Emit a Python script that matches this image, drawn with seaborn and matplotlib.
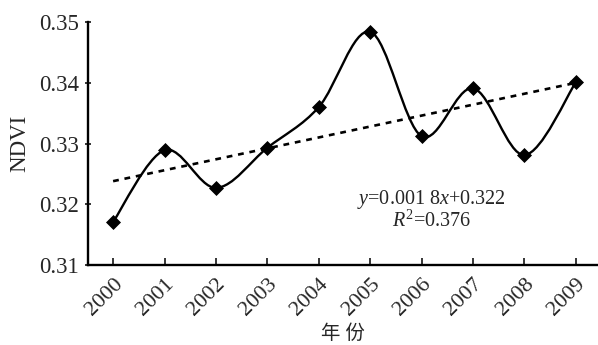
import numpy as np
import matplotlib
matplotlib.use('Agg')
import matplotlib.pyplot as plt
from matplotlib.path import Path
from matplotlib.patches import PathPatch
import seaborn as sns
import pandas as pd

# Data
years = [2000, 2001, 2002, 2003, 2004, 2005, 2006, 2007, 2008, 2009]
ndvi = [0.3171, 0.3289, 0.3227, 0.3293, 0.3360, 0.3484, 0.3312, 0.3391, 0.3281, 0.3401]
slope = 0.0018
intercept = 0.322
r2 = 0.376
yticks = [0.31, 0.32, 0.33, 0.34, 0.35]

sns.set_style("white")
plt.rcParams['font.family'] = ['Liberation Serif', 'Noto Sans CJK SC']
plt.rcParams['mathtext.fontset'] = 'custom'
plt.rcParams['mathtext.rm'] = 'Liberation Serif'
plt.rcParams['mathtext.it'] = 'Liberation Serif:italic'

df = pd.DataFrame({'year': years, 'ndvi': ndvi})
df['trend'] = intercept + slope * (np.arange(len(years)) + 1)

fig = plt.figure(figsize=(5.98, 3.45), dpi=100)
ax = fig.add_axes([0.147, 0.232, 0.853, 0.704])

# Smoothed line (Catmull-Rom style, like Excel smoothed lines)
x = np.array(years, dtype=float)
y = np.array(ndvi)
verts = [(x[0], y[0])]
codes = [Path.MOVETO]
n = len(x)
for i in range(n - 1):
    x0, y0 = (x[i - 1], y[i - 1]) if i > 0 else (x[i], y[i])
    x3, y3 = (x[i + 2], y[i + 2]) if i + 2 < n else (x[i + 1], y[i + 1])
    c1 = (x[i] + (x[i + 1] - x0) / 6, y[i] + (y[i + 1] - y0) / 6)
    c2 = (x[i + 1] - (x3 - x[i]) / 6, y[i + 1] - (y3 - y[i]) / 6)
    verts += [c1, c2, (x[i + 1], y[i + 1])]
    codes += [Path.CURVE4, Path.CURVE4, Path.CURVE4]
ax.add_patch(PathPatch(Path(verts, codes), facecolor='none', edgecolor='black', lw=1.7, zorder=2))

# Trend line
sns.lineplot(data=df, x='year', y='trend', ax=ax, color='black', lw=1.9,
             linestyle=(0, (2.2, 2.2)), zorder=1)

# Markers
sns.scatterplot(data=df, x='year', y='ndvi', ax=ax, marker='D', s=50,
                color='black', edgecolor='black', zorder=3)

ax.set_xlim(1999.51, 2009.43)
ax.set_ylim(0.31, 0.35)
ax.set_xticks(years)
ax.set_xticklabels([str(v) for v in years], rotation=45, ha='right',
                   rotation_mode='anchor', fontsize=16)
ax.set_yticks(yticks)
ax.set_yticklabels([f'{v:.2f}' for v in yticks], fontsize=16.5)
ax.tick_params(axis='x', direction='in', length=5, width=1.3, pad=7, bottom=True)
ax.tick_params(axis='y', direction='inout', length=5, width=1.3, pad=4, left=True)

for s in ['top', 'right']:
    ax.spines[s].set_visible(False)
for s in ['left', 'bottom']:
    ax.spines[s].set_linewidth(1.7)
    ax.spines[s].set_color('black')

ax.set_xlabel('年 份', fontsize=14, va='center')
ax.set_ylabel('NDVI', fontsize=16.5, labelpad=6)
ax.xaxis.set_label_coords(0.5, -0.285)

ax.text(2006.2, 0.3207, r'$\it{y}$=0.001 8$\it{x}$+0.322', fontsize=14.5,
        ha='center', va='center')
ax.text(2006.2, 0.3172, r'$\it{R}^{2}$=0.376', fontsize=14.5,
        ha='center', va='center')

fig.savefig('out.png', dpi=100, facecolor='white')
